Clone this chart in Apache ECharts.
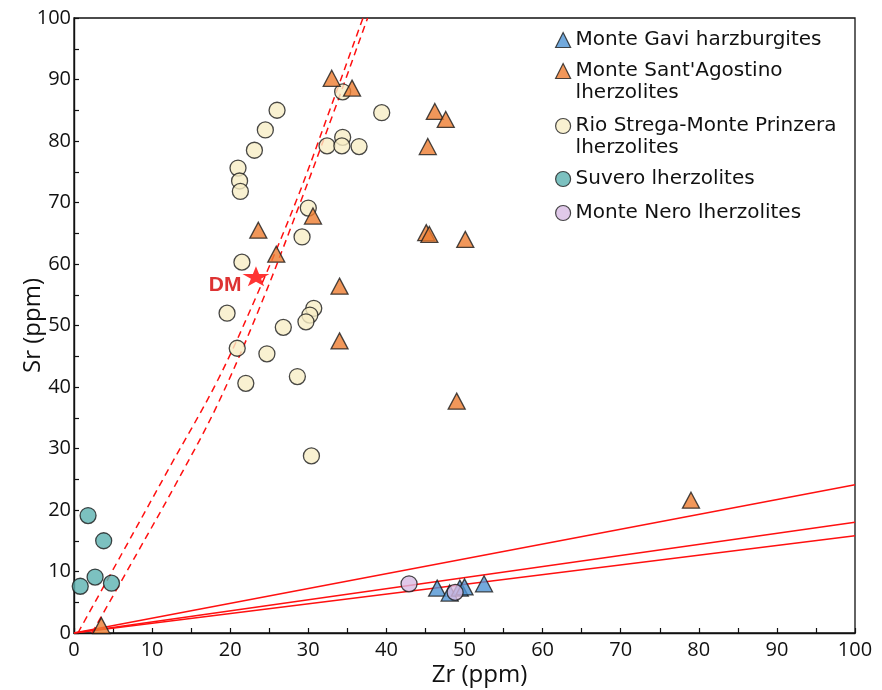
<!DOCTYPE html>
<html><head><meta charset="utf-8">
<script src="https://cdn.jsdelivr.net/npm/echarts@6/dist/echarts.min.js"></script>
<style>html,body{margin:0;padding:0;background:#fff}#c{width:882px;height:690px}</style>
</head><body><div id="c"></div>
<script>
// ---- data (Zr ppm, Sr ppm) ----
const monteGavi = [[46.5,7.3],[48.1,6.5],[49.4,7.3],[50.0,7.5],[52.5,8.0]];
const monteSantAgostino = [[33.0,90.2],[35.6,88.6],[46.2,84.8],[47.6,83.5],[45.3,79.1],[45.1,65.1],[45.5,64.8],[50.1,64.0],
  [23.6,65.5],[30.6,67.8],[25.9,61.6],[34.0,56.4],[34.0,47.5],[49.0,37.7],[79.0,21.6],[3.5,1.2]];
const rioStrega = [[26.0,85.0],[24.5,81.8],[23.1,78.5],[21.0,75.6],[21.2,73.5],[21.3,71.8],[34.4,88.0],[39.4,84.6],
  [34.4,80.6],[32.4,79.2],[34.3,79.2],[36.5,79.1],[30.0,69.1],[29.2,64.4],[21.5,60.3],[19.6,52.0],[30.7,52.8],
  [30.2,51.7],[29.7,50.6],[26.8,49.7],[20.9,46.3],[24.7,45.4],[28.6,41.7],[22.0,40.6],[30.4,28.8]];
const suvero = [[1.8,19.1],[3.8,15.0],[0.8,7.6],[2.7,9.1],[4.8,8.1]];
const monteNero = [[42.9,8.0],[48.8,6.6]];
const dm = [[23.3,58.0]];
// model curves
const solidLine1 = [[0,0],[100,24.1]];
const solidLine2 = [[0,0],[100,18.0]];
const solidLine3 = [[0,0],[100,15.8]];
const dashedCurve1 = [[0.5,0],[6,12.6],[12,26.4],[18.4,41.1],[23.5,55.2],[28.5,70.4],[32.6,84.5],[36.6,98.6],[37.0,100]];
const dashedCurve2 = [[2.3,0],[8,12.8],[13.2,24.6],[18.4,37.2],[23.8,53.0],[29.1,70.4],[33.2,84.5],[37.2,98.6],[37.6,100]];

const names = ['Monte Gavi harzburgites', "Monte Sant'Agostino lherzolites", 'Rio Strega-Monte Prinzera lherzolites', 'Suvero lherzolites', 'Monte Nero lherzolites'];
const legendLabels = ['Monte Gavi harzburgites', "\nMonte Sant'Agostino\nlherzolites", '\nRio Strega-Monte Prinzera\nlherzolites', 'Suvero lherzolites', 'Monte Nero lherzolites'];
const colors = ['#4F93D3', '#ED7D31', '#F7EDC6', '#5BB2B0', '#D8BCE3'];

const chart = echarts.init(document.getElementById('c'), null, {renderer:'canvas'});
const border = {borderColor:'#1a1a1a', borderWidth:1.3};
const legendTops = [29, 38, 93, 168, 202];
const legends = names.map((n, i) => ({
  data: [n], left: 555, top: legendTops[i], orient: 'vertical', padding: 0,
  itemWidth: 15, itemHeight: 15, selectedMode: false,
  itemStyle: {borderColor:'#1a1a1a', borderWidth:1.2},
  formatter: () => legendLabels[i],
  textStyle: {fontFamily:'DejaVu Sans', fontSize:20, color:'#111', lineHeight:22}
}));
const axisCommon = {
  type:'value', min:0, max:100, interval:10,
  axisLine:{show:true, onZero:false, lineStyle:{color:'#111', width:1.4}},
  axisTick:{show:true, inside:true, length:5, lineStyle:{color:'#111', width:1.2}},
  minorTick:{show:true, splitNumber:2, length:5, lineStyle:{color:'#111', width:1.2}},
  splitLine:{show:false},
  nameLocation:'middle', nameMoveOverlap:false
};
const lineSeries = (d, dashed) => ({
  type:'line', data:d, symbol:'none', silent:true, z:1, smooth: dashed ? 0.35 : false,
  lineStyle:{color:'#FF1010', width:1.5, type: dashed ? [7,5] : 'solid'}
});
chart.setOption({
  animation:false,
  backgroundColor:'#fff',
  grid:{left:74, right:27, top:18, bottom:57, show:true, borderColor:'#111', borderWidth:1.3, containLabel:false, outerBoundsMode:'none'},
  legend: legends,
  xAxis: Object.assign({}, axisCommon, {name:'Zr (ppm)', nameGap:30,
    nameTextStyle:{fontFamily:'Open Sans', fontSize:24, color:'#111', padding:[0,0,0,30]},
    axisLabel:{fontFamily:'Open Sans', fontSize:20, color:'#111', margin:7}}),
  yAxis: Object.assign({}, axisCommon, {name:'Sr (ppm)', nameGap:29,
    nameTextStyle:{fontFamily:'Open Sans', fontSize:24, color:'#111'},
    axisLabel:{fontFamily:'Open Sans', fontSize:20, color:'#111', margin:3}}),
  series:[
    lineSeries(solidLine1,false), lineSeries(solidLine2,false), lineSeries(solidLine3,false),
    lineSeries(dashedCurve1,true), lineSeries(dashedCurve2,true),
    {name:names[2], type:'scatter', data:rioStrega, symbol:'circle', symbolSize:16, z:3, itemStyle:Object.assign({color:colors[2]}, border)},
    {name:names[1], type:'scatter', data:monteSantAgostino, symbol:'triangle', symbolSize:[17,16], z:4, itemStyle:Object.assign({color:colors[1]}, border)},
    {name:names[3], type:'scatter', data:suvero, symbol:'circle', symbolSize:16, z:4, itemStyle:Object.assign({color:colors[3]}, border)},
    {name:names[0], type:'scatter', data:monteGavi, symbol:'triangle', symbolSize:[17,16], z:4, itemStyle:Object.assign({color:colors[0]}, border)},
    {name:names[4], type:'scatter', data:monteNero, symbol:'circle', symbolSize:16, z:5, itemStyle:Object.assign({color:colors[4]}, border)},
    {name:'DM', type:'scatter', data:dm, z:6,
     symbol:'path://M50,0 L61,35 L98,35 L68,57 L79,91 L50,70 L21,91 L32,57 L2,35 L39,35 Z',
     symbolSize:[27,20], symbolKeepAspect:false, itemStyle:{color:'#FF0000'},
     label:{show:true, formatter:'DM', position:'left', distance:1, offset:[0,9],
       fontFamily:'Liberation Sans', fontWeight:'bold', fontSize:21, color:'#D40000'}}
  ]
});
</script>
</body></html>
